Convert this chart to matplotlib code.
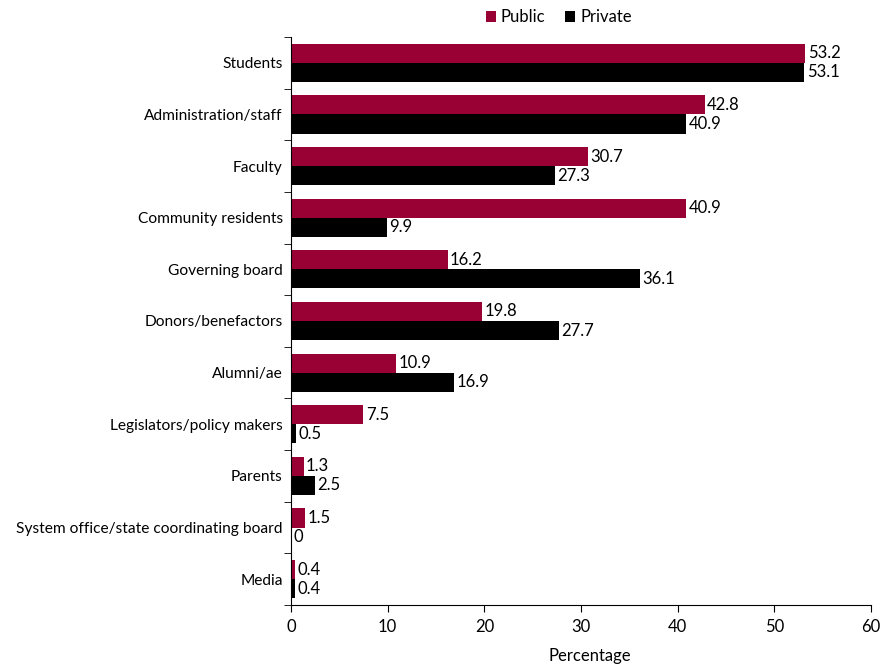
import matplotlib
matplotlib.use("Agg")
import matplotlib.pyplot as plt
import numpy as np

categories = ["Students", "Administration/staff", "Faculty", "Community residents",
              "Governing board", "Donors/benefactors", "Alumni/ae",
              "Legislators/policy makers", "Parents",
              "System office/state coordinating board", "Media"]
public = [53.2, 42.8, 30.7, 40.9, 16.2, 19.8, 10.9, 7.5, 1.3, 1.5, 0.4]
private = [53.1, 40.9, 27.3, 9.9, 36.1, 27.7, 16.9, 0.5, 2.5, 0, 0.4]
x_ticks = [0, 10, 20, 30, 40, 50, 60]

plt.rcParams["font.family"] = ["Lato", "DejaVu Sans"]
plt.rcParams["font.size"] = 11.2

maroon = "#990033"
fig = plt.figure(figsize=(8.87, 6.68), dpi=100)
ax = fig.add_axes([291 / 887, 63 / 668, 580 / 887, 568 / 668])

n = len(categories)
y = np.arange(n)
h = 0.37
ax.barh(y - h / 2, public, height=h, color=maroon, label="Public")
ax.barh(y + h / 2, private, height=h, color="black", label="Private")

for yi, v in zip(y - h / 2, public):
    ax.text(v + 0.25, yi, f"{v:g}", va="center", ha="left", fontsize=12)
for yi, v in zip(y + h / 2, private):
    ax.text(v + 0.25, yi, f"{v:g}", va="center", ha="left", fontsize=12)

ax.set_xlim(0, 60)
ax.set_ylim(n - 0.5, -0.5)
ax.set_xticks(x_ticks)
ax.set_yticks(y)
ax.set_yticklabels(categories)
ax.tick_params(axis="y", length=0, pad=6)
ax.set_yticks(np.arange(n + 1) - 0.5, minor=True)
ax.tick_params(axis="y", which="minor", length=5, direction="out")
ax.tick_params(axis="x", length=5, direction="out", pad=5, labelsize=12)
for s in ["top", "right"]:
    ax.spines[s].set_visible(False)
ax.set_xlabel("Percentage", fontsize=12)
ax.xaxis.set_label_coords(0.515, -0.075)

ax.legend(loc="lower center", bbox_to_anchor=(0.462, 1.0), ncol=2, frameon=False,
          fontsize=12, handlelength=0.6, handleheight=0.6, handletextpad=0.3,
          columnspacing=1.2, borderaxespad=0.3)

fig.savefig("out.png", dpi=100)
